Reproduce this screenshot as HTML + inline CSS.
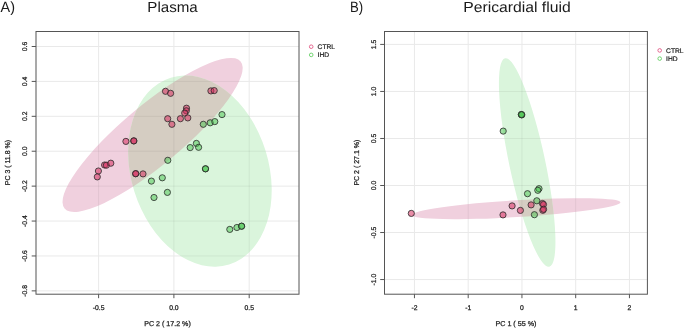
<!DOCTYPE html>
<html><head><meta charset="utf-8"><style>
html,body{margin:0;padding:0;background:#fff;}
body{width:685px;height:329px;overflow:hidden;font-family:"Liberation Sans",sans-serif;}
svg{display:block;will-change:transform;}
</style></head><body>
<svg width="685" height="329" viewBox="0 0 685 329" text-rendering="geometricPrecision">
<defs>
<clipPath id="cL"><rect x="36.0" y="31.5" width="263.0" height="262.7"/></clipPath>
<clipPath id="cR"><rect x="384.5" y="31.5" width="262.9" height="262.7"/></clipPath>
<clipPath id="pL"><ellipse cx="152.6" cy="134.92" rx="114.7" ry="29.9" transform="rotate(-39.88 152.6 134.92)" fill="#000" /></clipPath>
<clipPath id="cLu"><ellipse cx="152.6" cy="134.92" rx="114.7" ry="29.9" transform="rotate(-39.88 152.6 134.92)" fill="#000" /><ellipse cx="199.93" cy="171.04" rx="97.86" ry="68.71" transform="rotate(72.66 199.93 171.04)" fill="#000" /></clipPath>
<clipPath id="cRu"><ellipse cx="516.3" cy="208.67" rx="104.3" ry="8.4" transform="rotate(-3.48 516.3 208.67)" fill="#000" /><ellipse cx="527.18" cy="162.52" rx="106.6" ry="18.0" transform="rotate(78.03 527.18 162.52)" fill="#000" /></clipPath>
<clipPath id="pR"><ellipse cx="516.3" cy="208.67" rx="104.3" ry="8.4" transform="rotate(-3.48 516.3 208.67)" fill="#000" /></clipPath>
</defs>
<rect width="685" height="329" fill="#fff"/>
<g stroke="#e9e9e9" stroke-width="1">
<line x1="98.6" y1="31.5" x2="98.6" y2="294.2"/>
<line x1="173.9" y1="31.5" x2="173.9" y2="294.2"/>
<line x1="249.2" y1="31.5" x2="249.2" y2="294.2"/>
<line x1="36.0" y1="46.5" x2="299.0" y2="46.5"/>
<line x1="36.0" y1="81.41" x2="299.0" y2="81.41"/>
<line x1="36.0" y1="116.32" x2="299.0" y2="116.32"/>
<line x1="36.0" y1="151.23" x2="299.0" y2="151.23"/>
<line x1="36.0" y1="186.14" x2="299.0" y2="186.14"/>
<line x1="36.0" y1="221.04999999999998" x2="299.0" y2="221.04999999999998"/>
<line x1="36.0" y1="255.95999999999998" x2="299.0" y2="255.95999999999998"/>
<line x1="36.0" y1="290.87" x2="299.0" y2="290.87"/>
</g>
<g clip-path="url(#cL)">
<ellipse cx="152.6" cy="134.92" rx="114.7" ry="29.9" transform="rotate(-39.88 152.6 134.92)" fill="#f0d0de" />
<ellipse cx="199.93" cy="171.04" rx="97.86" ry="68.71" transform="rotate(72.66 199.93 171.04)" fill="#daf5dc" />
<g clip-path="url(#pL)"><ellipse cx="199.93" cy="171.04" rx="97.86" ry="68.71" transform="rotate(72.66 199.93 171.04)" fill="#d5cdc2" /></g>
</g>
<g stroke="rgba(0,0,0,0.06)" stroke-width="1" clip-path="url(#cLu)">
<line x1="98.6" y1="31.5" x2="98.6" y2="294.2"/>
<line x1="173.9" y1="31.5" x2="173.9" y2="294.2"/>
<line x1="249.2" y1="31.5" x2="249.2" y2="294.2"/>
<line x1="36.0" y1="46.5" x2="299.0" y2="46.5"/>
<line x1="36.0" y1="81.41" x2="299.0" y2="81.41"/>
<line x1="36.0" y1="116.32" x2="299.0" y2="116.32"/>
<line x1="36.0" y1="151.23" x2="299.0" y2="151.23"/>
<line x1="36.0" y1="186.14" x2="299.0" y2="186.14"/>
<line x1="36.0" y1="221.04999999999998" x2="299.0" y2="221.04999999999998"/>
<line x1="36.0" y1="255.95999999999998" x2="299.0" y2="255.95999999999998"/>
<line x1="36.0" y1="290.87" x2="299.0" y2="290.87"/>
</g>
<g stroke="#2a2a2a" stroke-width="0.8">
<circle cx="98.4" cy="171" r="3.1" fill="rgba(215,45,95,0.54)"/>
<circle cx="97.3" cy="176.9" r="3.1" fill="rgba(215,45,95,0.54)"/>
<circle cx="104.6" cy="165" r="3.1" fill="rgba(215,45,95,0.54)"/>
<circle cx="106.4" cy="165.2" r="3.1" fill="rgba(215,45,95,0.54)"/>
<circle cx="110.8" cy="163.2" r="3.1" fill="rgba(215,45,95,0.54)"/>
<circle cx="125.9" cy="141.4" r="3.1" fill="rgba(215,45,95,0.54)"/>
<circle cx="133.8" cy="140.9" r="3.1" fill="rgba(215,45,95,0.54)"/>
<circle cx="133.8" cy="140.9" r="3.1" fill="rgba(215,45,95,0.54)"/>
<circle cx="135.7" cy="173.7" r="3.1" fill="rgba(215,45,95,0.54)"/>
<circle cx="135.7" cy="173.7" r="3.1" fill="rgba(215,45,95,0.54)"/>
<circle cx="143" cy="173.9" r="3.1" fill="rgba(215,45,95,0.54)"/>
<circle cx="165.5" cy="91.3" r="3.1" fill="rgba(215,45,95,0.54)"/>
<circle cx="170.6" cy="93.3" r="3.1" fill="rgba(215,45,95,0.54)"/>
<circle cx="210.9" cy="90.9" r="3.1" fill="rgba(215,45,95,0.54)"/>
<circle cx="214.2" cy="90.6" r="3.1" fill="rgba(215,45,95,0.54)"/>
<circle cx="186.5" cy="108.2" r="3.1" fill="rgba(215,45,95,0.54)"/>
<circle cx="186.3" cy="110.8" r="3.1" fill="rgba(215,45,95,0.54)"/>
<circle cx="184.7" cy="113.1" r="3.1" fill="rgba(215,45,95,0.54)"/>
<circle cx="167.7" cy="118.7" r="3.1" fill="rgba(215,45,95,0.54)"/>
<circle cx="171.9" cy="124.3" r="3.1" fill="rgba(215,45,95,0.54)"/>
<circle cx="180.4" cy="118.7" r="3.1" fill="rgba(215,45,95,0.54)"/>
<circle cx="187.8" cy="117.9" r="3.1" fill="rgba(215,45,95,0.54)"/>
<circle cx="222" cy="114.6" r="3.1" fill="rgba(70,195,75,0.5)"/>
<circle cx="203.3" cy="124.3" r="3.1" fill="rgba(70,195,75,0.5)"/>
<circle cx="210.2" cy="122.8" r="3.1" fill="rgba(70,195,75,0.5)"/>
<circle cx="214.8" cy="121.6" r="3.1" fill="rgba(70,195,75,0.5)"/>
<circle cx="190.2" cy="147.6" r="3.1" fill="rgba(70,195,75,0.5)"/>
<circle cx="196.4" cy="143.4" r="3.1" fill="rgba(70,195,75,0.5)"/>
<circle cx="198.6" cy="147.3" r="3.1" fill="rgba(70,195,75,0.5)"/>
<circle cx="167.8" cy="160.3" r="3.1" fill="rgba(70,195,75,0.5)"/>
<circle cx="205.5" cy="168.8" r="3.1" fill="rgba(70,195,75,0.5)"/>
<circle cx="205.5" cy="168.8" r="3.1" fill="rgba(70,195,75,0.5)"/>
<circle cx="151.4" cy="181.1" r="3.1" fill="rgba(70,195,75,0.5)"/>
<circle cx="162.3" cy="177.8" r="3.1" fill="rgba(70,195,75,0.5)"/>
<circle cx="167.4" cy="192.4" r="3.1" fill="rgba(70,195,75,0.5)"/>
<circle cx="154" cy="197.5" r="3.1" fill="rgba(70,195,75,0.5)"/>
<circle cx="229.8" cy="229.4" r="3.1" fill="rgba(70,195,75,0.5)"/>
<circle cx="236.9" cy="227.5" r="3.1" fill="rgba(70,195,75,0.5)"/>
<circle cx="241.6" cy="226.2" r="3.1" fill="rgba(70,195,75,0.5)"/>
<circle cx="241.6" cy="226.2" r="3.1" fill="rgba(70,195,75,0.5)"/>
</g>
<rect x="36.0" y="31.5" width="263.0" height="262.7" fill="none" stroke="#555" stroke-width="1"/>
<g stroke="#555" stroke-width="1">
<line x1="98.6" y1="294.2" x2="98.6" y2="298.2"/>
<line x1="173.9" y1="294.2" x2="173.9" y2="298.2"/>
<line x1="249.2" y1="294.2" x2="249.2" y2="298.2"/>
<line x1="31.7" y1="46.5" x2="36.0" y2="46.5"/>
<line x1="31.7" y1="81.41" x2="36.0" y2="81.41"/>
<line x1="31.7" y1="116.32" x2="36.0" y2="116.32"/>
<line x1="31.7" y1="151.23" x2="36.0" y2="151.23"/>
<line x1="31.7" y1="186.14" x2="36.0" y2="186.14"/>
<line x1="31.7" y1="221.04999999999998" x2="36.0" y2="221.04999999999998"/>
<line x1="31.7" y1="255.95999999999998" x2="36.0" y2="255.95999999999998"/>
<line x1="31.7" y1="290.87" x2="36.0" y2="290.87"/>
</g>
<g font-family="Liberation Sans, sans-serif" font-size="6.8" fill="#222" stroke="#222" stroke-width="0.25" text-anchor="middle">
<text x="98.6" y="309.9">-0.5</text>
<text x="173.9" y="309.9">0.0</text>
<text x="249.2" y="309.9">0.5</text>
<text transform="translate(27.2 46.5) rotate(-90)">0.6</text>
<text transform="translate(27.2 81.41) rotate(-90)">0.4</text>
<text transform="translate(27.2 116.32) rotate(-90)">0.2</text>
<text transform="translate(27.2 151.23) rotate(-90)">0.0</text>
<text transform="translate(27.2 186.14) rotate(-90)">-0.2</text>
<text transform="translate(27.2 221.04999999999998) rotate(-90)">-0.4</text>
<text transform="translate(27.2 255.95999999999998) rotate(-90)">-0.6</text>
<text transform="translate(27.2 290.87) rotate(-90)">-0.8</text>
<text x="167.5" y="326.4" textLength="46.6" lengthAdjust="spacingAndGlyphs" font-size="7.1">PC 2 ( 17.2 %)</text>
<text transform="translate(10.0 162.6) rotate(-90)" textLength="45.3" lengthAdjust="spacingAndGlyphs" font-size="7.1">PC 3 ( 11.8 %)</text>
</g>
<g stroke="#e9e9e9" stroke-width="1">
<line x1="414.45000000000005" y1="31.5" x2="414.45000000000005" y2="294.2"/>
<line x1="468.20000000000005" y1="31.5" x2="468.20000000000005" y2="294.2"/>
<line x1="521.95" y1="31.5" x2="521.95" y2="294.2"/>
<line x1="575.7" y1="31.5" x2="575.7" y2="294.2"/>
<line x1="629.45" y1="31.5" x2="629.45" y2="294.2"/>
<line x1="384.5" y1="44.41" x2="647.4" y2="44.41"/>
<line x1="384.5" y1="91.44" x2="647.4" y2="91.44"/>
<line x1="384.5" y1="138.47" x2="647.4" y2="138.47"/>
<line x1="384.5" y1="185.5" x2="647.4" y2="185.5"/>
<line x1="384.5" y1="232.53" x2="647.4" y2="232.53"/>
<line x1="384.5" y1="279.56" x2="647.4" y2="279.56"/>
</g>
<g clip-path="url(#cR)">
<ellipse cx="516.3" cy="208.67" rx="104.3" ry="8.4" transform="rotate(-3.48 516.3 208.67)" fill="#f0d0de" />
<ellipse cx="527.18" cy="162.52" rx="106.6" ry="18.0" transform="rotate(78.03 527.18 162.52)" fill="#daf5dc" />
<g clip-path="url(#pR)"><ellipse cx="527.18" cy="162.52" rx="106.6" ry="18.0" transform="rotate(78.03 527.18 162.52)" fill="#d5cdc2" /></g>
</g>
<g stroke="rgba(0,0,0,0.06)" stroke-width="1" clip-path="url(#cRu)">
<line x1="414.45000000000005" y1="31.5" x2="414.45000000000005" y2="294.2"/>
<line x1="468.20000000000005" y1="31.5" x2="468.20000000000005" y2="294.2"/>
<line x1="521.95" y1="31.5" x2="521.95" y2="294.2"/>
<line x1="575.7" y1="31.5" x2="575.7" y2="294.2"/>
<line x1="629.45" y1="31.5" x2="629.45" y2="294.2"/>
<line x1="384.5" y1="44.41" x2="647.4" y2="44.41"/>
<line x1="384.5" y1="91.44" x2="647.4" y2="91.44"/>
<line x1="384.5" y1="138.47" x2="647.4" y2="138.47"/>
<line x1="384.5" y1="185.5" x2="647.4" y2="185.5"/>
<line x1="384.5" y1="232.53" x2="647.4" y2="232.53"/>
<line x1="384.5" y1="279.56" x2="647.4" y2="279.56"/>
</g>
<g stroke="#2a2a2a" stroke-width="0.8">
<circle cx="411.3" cy="213.4" r="3.1" fill="rgba(215,45,95,0.54)"/>
<circle cx="503" cy="214.9" r="3.1" fill="rgba(215,45,95,0.54)"/>
<circle cx="512.1" cy="205.9" r="3.1" fill="rgba(215,45,95,0.54)"/>
<circle cx="520.4" cy="210.4" r="3.1" fill="rgba(215,45,95,0.54)"/>
<circle cx="531.1" cy="204.9" r="3.1" fill="rgba(215,45,95,0.54)"/>
<circle cx="542.5" cy="203.5" r="3.1" fill="rgba(215,45,95,0.54)"/>
<circle cx="543.5" cy="204.5" r="3.1" fill="rgba(215,45,95,0.54)"/>
<circle cx="542.8" cy="210.3" r="3.1" fill="rgba(215,45,95,0.54)"/>
<circle cx="543.6" cy="209.3" r="3.1" fill="rgba(215,45,95,0.54)"/>
<circle cx="521.3" cy="114.5" r="3.1" fill="rgba(70,195,75,0.5)"/>
<circle cx="521.8" cy="114.9" r="3.1" fill="rgba(70,195,75,0.5)"/>
<circle cx="521.5" cy="114.6" r="3.1" fill="rgba(70,195,75,0.5)"/>
<circle cx="503.2" cy="131.1" r="3.1" fill="rgba(70,195,75,0.5)"/>
<circle cx="539" cy="188.7" r="3.1" fill="rgba(70,195,75,0.5)"/>
<circle cx="537.8" cy="190.3" r="3.1" fill="rgba(70,195,75,0.5)"/>
<circle cx="527.5" cy="193.7" r="3.1" fill="rgba(70,195,75,0.5)"/>
<circle cx="536.8" cy="200.8" r="3.1" fill="rgba(70,195,75,0.5)"/>
<circle cx="534.4" cy="214.7" r="3.1" fill="rgba(70,195,75,0.5)"/>
</g>
<rect x="384.5" y="31.5" width="262.9" height="262.7" fill="none" stroke="#555" stroke-width="1"/>
<g stroke="#555" stroke-width="1">
<line x1="414.45000000000005" y1="294.2" x2="414.45000000000005" y2="298.2"/>
<line x1="468.20000000000005" y1="294.2" x2="468.20000000000005" y2="298.2"/>
<line x1="521.95" y1="294.2" x2="521.95" y2="298.2"/>
<line x1="575.7" y1="294.2" x2="575.7" y2="298.2"/>
<line x1="629.45" y1="294.2" x2="629.45" y2="298.2"/>
<line x1="380.2" y1="44.41" x2="384.5" y2="44.41"/>
<line x1="380.2" y1="91.44" x2="384.5" y2="91.44"/>
<line x1="380.2" y1="138.47" x2="384.5" y2="138.47"/>
<line x1="380.2" y1="185.5" x2="384.5" y2="185.5"/>
<line x1="380.2" y1="232.53" x2="384.5" y2="232.53"/>
<line x1="380.2" y1="279.56" x2="384.5" y2="279.56"/>
</g>
<g font-family="Liberation Sans, sans-serif" font-size="6.8" fill="#222" stroke="#222" stroke-width="0.25" text-anchor="middle">
<text x="414.45000000000005" y="309.9">-2</text>
<text x="468.20000000000005" y="309.9">-1</text>
<text x="521.95" y="309.9">0</text>
<text x="575.7" y="309.9">1</text>
<text x="629.45" y="309.9">2</text>
<text transform="translate(375.6 44.41) rotate(-90)">1.5</text>
<text transform="translate(375.6 91.44) rotate(-90)">1.0</text>
<text transform="translate(375.6 138.47) rotate(-90)">0.5</text>
<text transform="translate(375.6 185.5) rotate(-90)">0.0</text>
<text transform="translate(375.6 232.53) rotate(-90)">-0.5</text>
<text transform="translate(375.6 279.56) rotate(-90)">-1.0</text>
<text x="515.95" y="326.4" textLength="41.0" lengthAdjust="spacingAndGlyphs" font-size="7.1">PC 1 ( 55 %)</text>
<text transform="translate(359.3 162.6) rotate(-90)" textLength="46.0" lengthAdjust="spacingAndGlyphs" font-size="7.1">PC 2 ( 27.1 %)</text>
</g>
<circle cx="311.2" cy="46.7" r="1.8" fill="none" stroke="#e0507f" stroke-width="0.85"/>
<circle cx="311.2" cy="54.900000000000006" r="1.8" fill="none" stroke="#5ccc5c" stroke-width="0.85"/>
<g font-family="Liberation Sans, sans-serif" font-size="6.7" fill="#222" stroke="#222" stroke-width="0.2"><text x="317.59999999999997" y="49.1">CTRL</text><text x="317.59999999999997" y="57.300000000000004">IHD</text></g>
<circle cx="659.7" cy="50.4" r="1.8" fill="none" stroke="#e0507f" stroke-width="0.85"/>
<circle cx="659.7" cy="58.599999999999994" r="1.8" fill="none" stroke="#5ccc5c" stroke-width="0.85"/>
<g font-family="Liberation Sans, sans-serif" font-size="6.7" fill="#222" stroke="#222" stroke-width="0.2"><text x="666.1" y="52.8">CTRL</text><text x="666.1" y="61.0">IHD</text></g>
<g font-family="Liberation Sans, sans-serif" fill="#1a1a1a">
<text x="0.6" y="11.9" font-size="15" textLength="14.4" lengthAdjust="spacingAndGlyphs">A)</text>
<text x="349.9" y="11.9" font-size="15" textLength="13.2" lengthAdjust="spacingAndGlyphs">B)</text>
<text x="147.3" y="11.6" font-size="14.6" textLength="50.5" lengthAdjust="spacingAndGlyphs">Plasma</text>
<text x="463.2" y="11.7" font-size="14.6" textLength="107.5" lengthAdjust="spacingAndGlyphs">Pericardial fluid</text>
</g>
</svg>
</body></html>
